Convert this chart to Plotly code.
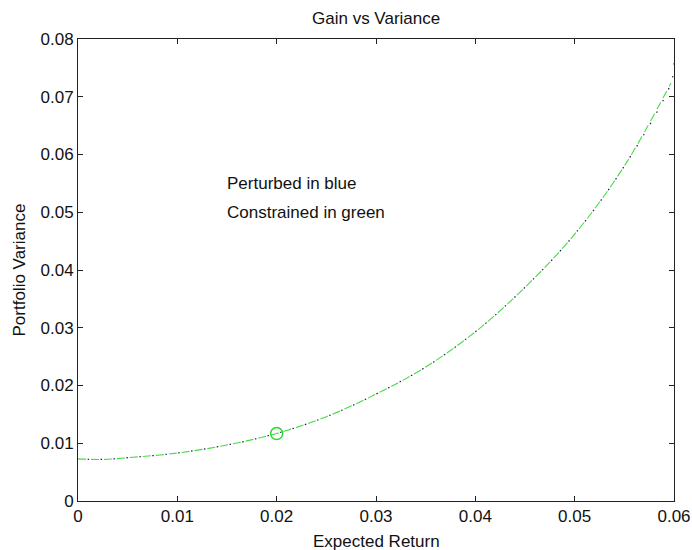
import plotly.graph_objects as go

# Data
x_constrained = [0.0, 0.0025, 0.005, 0.01, 0.015, 0.02, 0.025, 0.03, 0.035, 0.04, 0.045, 0.05, 0.055, 0.0597]
y_constrained = [0.0073, 0.0072, 0.0075, 0.0083, 0.0097, 0.0117, 0.0146, 0.0185, 0.0232, 0.0293, 0.0370, 0.0462, 0.0580, 0.0724]
x_perturbed = [0.0, 0.0025, 0.005, 0.01, 0.015, 0.02, 0.025, 0.03, 0.035, 0.04, 0.045, 0.05, 0.055, 0.0597, 0.06]
y_perturbed = [0.0073, 0.0072, 0.0075, 0.0083, 0.0097, 0.0117, 0.0146, 0.0185, 0.0232, 0.0293, 0.0370, 0.0462, 0.0580, 0.0724, 0.0758]
point_x = [0.02]
point_y = [0.0117]

x_ticks = [0, 0.01, 0.02, 0.03, 0.04, 0.05, 0.06]
x_ticklabels = ["0", "0.01", "0.02", "0.03", "0.04", "0.05", "0.06"]
y_ticks = [0, 0.01, 0.02, 0.03, 0.04, 0.05, 0.06, 0.07, 0.08]
y_ticklabels = ["0", "0.01", "0.02", "0.03", "0.04", "0.05", "0.06", "0.07", "0.08"]

FONT = "Liberation Sans, Arial, sans-serif"
W, H = 692, 550
L, R, T, B = 78, 18, 39, 49

fig = go.Figure()
fig.add_trace(go.Scatter(x=x_constrained, y=y_constrained, mode="lines",
                         line=dict(color="#44dc44", width=1.1, dash="8px,5px", shape="spline"),
                         showlegend=False))
fig.add_trace(go.Scatter(x=x_perturbed, y=y_perturbed, mode="lines",
                         line=dict(color="#1c1c50", width=1.2, dash="0px,9.5px,1.5px,2px", shape="spline"),
                         showlegend=False))
fig.add_trace(go.Scatter(x=point_x, y=point_y, mode="markers",
                         marker=dict(symbol="circle-open", size=12, color="#22dd22", line=dict(width=1.5)),
                         showlegend=False))

axis_common = dict(showgrid=False, zeroline=False, showline=True, linecolor="#222222", linewidth=1,
                   mirror="ticks", ticks="inside", ticklen=5, tickcolor="#222222", automargin=False,
                   tickfont=dict(family=FONT, size=17, color="#111111"))

fig.update_xaxes(range=[0, 0.06], tickvals=x_ticks, ticktext=x_ticklabels, **axis_common)
fig.update_yaxes(range=[0, 0.08], tickvals=y_ticks, ticktext=y_ticklabels, **axis_common)

pw, ph = W - L - R, H - T - B


def px_to_plot(px, py):
    return (px - L) / pw, 1 - (py - T) / ph


cx = (L + (W - R)) / 2
annotations = []
for text, (px, py), angle in [("Gain vs Variance", (cx, 19), 0),
                              ("Expected Return", (cx, 541), 0),
                              ("Portfolio Variance", (18.5, (T + (H - B)) / 2), -90)]:
    ax_, ay_ = px_to_plot(px, py)
    annotations.append(dict(text=text, x=ax_, y=ay_, xref="paper", yref="paper", showarrow=False,
                            textangle=angle, font=dict(family=FONT, size=17, color="#111111"),
                            xanchor="center", yanchor="middle"))
annotations.append(dict(text="Perturbed in blue", x=0.0148, y=0.055, xref="x", yref="y", showarrow=False,
                        font=dict(family=FONT, size=17, color="#111111"), xanchor="left", yanchor="middle"))
annotations.append(dict(text="Constrained in green", x=0.0148, y=0.05, xref="x", yref="y", showarrow=False,
                        font=dict(family=FONT, size=17, color="#111111"), xanchor="left", yanchor="middle"))

fig.update_layout(
    width=W, height=H,
    margin=dict(l=L, r=R, t=T, b=B, pad=0, autoexpand=False),
    paper_bgcolor="white", plot_bgcolor="white",
    annotations=annotations,
)

fig.write_html("out.html")
